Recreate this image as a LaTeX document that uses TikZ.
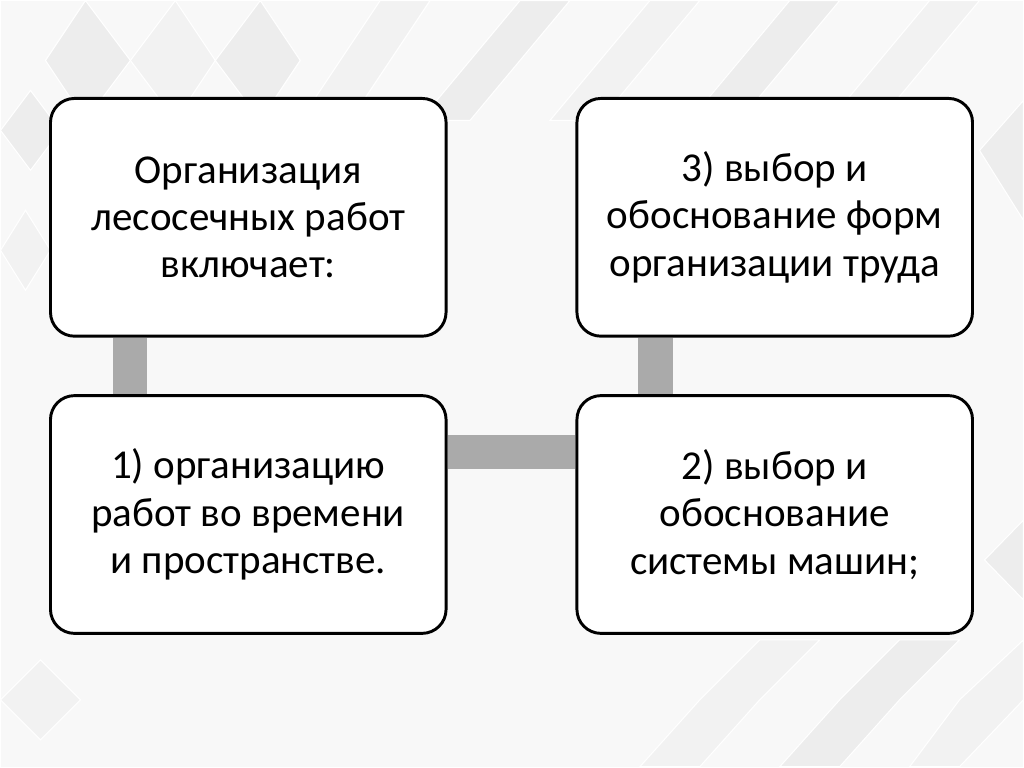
\documentclass[tikz,border=0pt]{standalone}
\usepackage{fontspec}
\setmainfont{Carlito}
\usetikzlibrary{calc}
\definecolor{conncol}{RGB}{170,170,170}
\definecolor{bgA}{RGB}{248,248,248}
\definecolor{bgB}{RGB}{237,237,237}
\definecolor{bgC}{RGB}{242,242,242}
\pgfdeclarelayer{back}
\pgfdeclarelayer{conn}
\pgfsetlayers{back,conn,main}
\tikzset{
  box/.style={draw=black, line width=2.2pt, fill=white, rounded corners=18pt,
    minimum width=297pt, minimum height=178.5pt, align=center,
    font=\fontsize{30.8pt}{35.5pt}\selectfont, inner sep=0pt},
  conn/.style={conncol, line width=26pt},
  tile/.style={fill=bgB, draw=white, line width=0.8pt},
  tileb/.style={fill=bgC, draw=white, line width=0.8pt}
}
\begin{document}
\begin{tikzpicture}[x=0.75pt,y=-0.75pt]
\begin{pgfonlayer}{back}
\fill[bgA] (0,0) rectangle (1024,767);
% mosaic tiles (top)
\path[tile] (45,60) -- (85,0) -- (130,60) -- (85,120) -- cycle;
\path[tileb] (130,60) -- (175,0) -- (215,60) -- (175,120) -- cycle;
\path[tile] (215,60) -- (260,0) -- (300,60) -- (260,120) -- cycle;
\path[tileb] (340,60) -- (380,0) -- (430,0) -- (390,60) -- (350,120) -- (300,120) -- cycle;
\path[tile] (470,60) -- (520,0) -- (570,0) -- (520,60) -- (470,120) -- (420,120) -- cycle;
\path[tileb] (600,60) -- (650,0) -- (700,0) -- (650,60) -- (600,120) -- (550,120) -- cycle;
\path[tile] (740,60) -- (790,0) -- (840,0) -- (790,60) -- (740,120) -- (690,120) -- cycle;
\path[tileb] (880,60) -- (930,0) -- (980,0) -- (930,60) -- (880,120) -- (830,120) -- cycle;
\path[tile] (0,130) -- (30,90) -- (60,130) -- (30,170) -- cycle;
\path[tileb] (0,250) -- (25,210) -- (50,250) -- (25,290) -- cycle;
\path[tile] (980,150) -- (1024,100) -- (1024,220) -- cycle;
% bottom right
\path[tileb] (700,700) -- (760,640) -- (820,640) -- (760,700) -- (700,767) -- (640,767) -- cycle;
\path[tile] (840,700) -- (900,640) -- (960,640) -- (900,700) -- (840,767) -- (780,767) -- cycle;
\path[tileb] (960,700) -- (1024,640) -- (1024,700) -- (960,767) -- (910,767) -- cycle;
\path[tile] (985,560) -- (1024,520) -- (1024,600) -- cycle;
\path[tileb] (0,700) -- (40,660) -- (80,700) -- (40,740) -- cycle;
\end{pgfonlayer}

\node[box] (b0) at (248,217) {Организация\\лесосечных работ\\включает:};
\node[box] (b3) at (775,217) {3) выбор и\\обоснование форм\\организации труда};
\node[box] (b1) at (248,514.5) {1) организацию\\работ во времени\\и пространстве.};
\node[box] (b2) at (775,514.5) {2) выбор и\\обоснование\\системы машин;};

\begin{pgfonlayer}{conn}
\draw[conn] ($(b0.south west)+(81,0)$) -- ($(b1.north west)+(81,0)$);
\draw[conn] ($(b3.south west)+(80,0)$) -- ($(b2.north west)+(80,0)$);
\draw[conn] ($(b1.north east)+(0,58)$) -- ($(b2.north west)+(0,58)$);
\end{pgfonlayer}
\end{tikzpicture}
\end{document}
